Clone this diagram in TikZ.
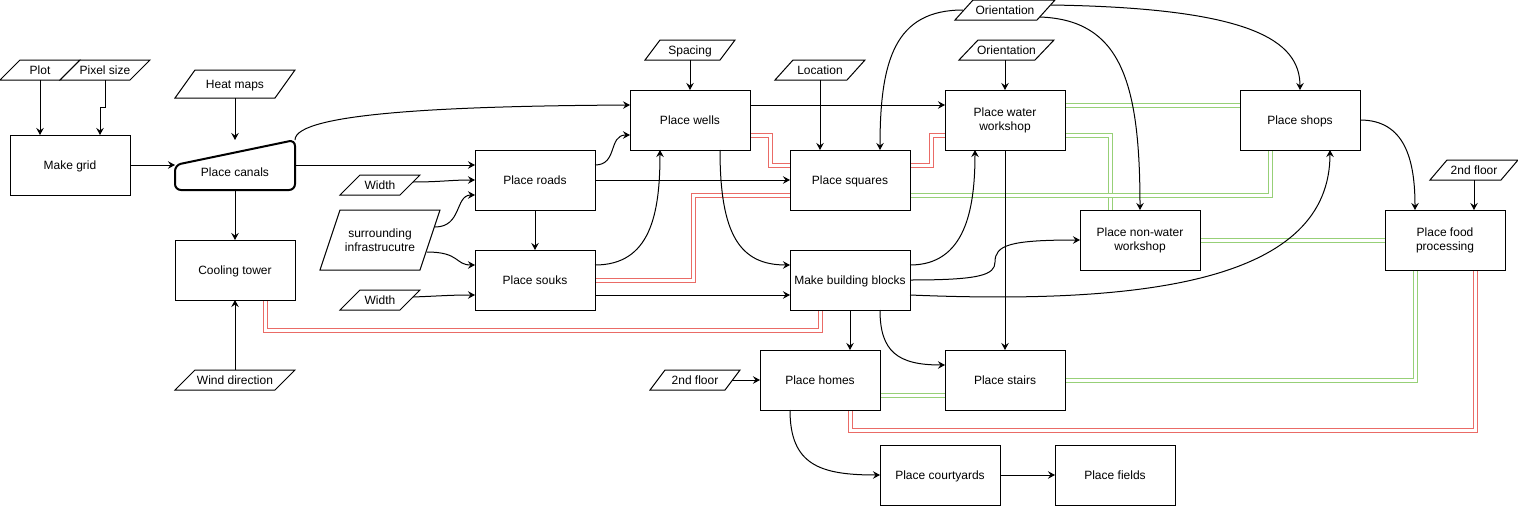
\documentclass[tikz,border=0pt]{standalone}
\usepackage{fontspec}
\setmainfont{Liberation Sans}
\usetikzlibrary{arrows.meta,calc}
\definecolor{lred}{HTML}{EA6B66}
\definecolor{lgreen}{HTML}{97D077}
\pgfdeclarelayer{bg}
\pgfsetlayers{bg,main}
\newcommand\pgdraw[2]{\draw ($(#1.north west)+(#2,0)$) -- (#1.north east) -- ($(#1.south east)+(-#2,0)$) -- (#1.south west) -- cycle;}
\begin{document}
\begin{tikzpicture}[x=1pt,y=-1pt,line width=1pt,
 every node/.style={font=\fontsize{12}{14}\selectfont, inner sep=0pt, outer sep=0pt, align=center},
 oneline/.style={text height=10.6pt, text depth=2.5pt},
 boxm/.style={draw, line width=1pt, rectangle, minimum width=120, minimum height=60},
 box/.style={boxm, oneline},
 pgm/.style={rectangle, minimum height=20},
 pg/.style={pgm, oneline},
 arr/.style={line width=1pt, -{Stealth[length=7pt,width=7.5pt,inset=2.5pt]}},
 rlink/.style={draw=lred, double=white, double distance=3pt, line width=1pt},
 glink/.style={draw=lgreen, double=white, double distance=3pt, line width=1pt}]
\useasboundingbox (0,0) rectangle (1518,506);
% nodes
\node[pg, minimum width=80] (plot) at (40,70) {Plot};
\node[pg, minimum width=90] (pix) at (105,70) {Pixel size};
\node[box] (grid) at (70,165) {Make grid};
\node[pg, minimum width=120, minimum height=28] (heat) at (235,84) {Heat maps};
\node[minimum width=120, minimum height=50, label={[oneline, yshift=-7.5pt]center:Place canals}] (canals) at (235,165) {};
\node[box] (cool) at (235,270) {Cooling tower};
\node[pg, minimum width=120] (wind) at (235,380) {Wind direction};
\node[pg, minimum width=80] (w1) at (380,185) {Width};
\node[pgm, minimum width=120, minimum height=60] (surr) at (380,240) {surrounding\\infrastrucutre};
\node[pg, minimum width=80] (w2) at (380,300) {Width};
\node[box] (roads) at (535,180) {Place roads};
\node[box] (souks) at (535,280) {Place souks};
\node[box] (wells) at (690,120) {Place wells};
\node[pg, minimum width=90] (spacing) at (690,50) {Spacing};
\node[pg, minimum width=90] (loc) at (820,70) {Location};
\node[box] (squares) at (850,180) {Place squares};
\node[box] (mbb) at (850,280) {Make building blocks};
\node[boxm] (ww) at (1005,120) {Place water\\workshop};
\node[pg, minimum width=100] (or1) at (1005,10) {Orientation};
\node[pg, minimum width=95] (or2) at (1006.5,50) {Orientation};
\node[boxm] (nww) at (1140,240) {Place non-water\\workshop};
\node[box] (shops) at (1300,120) {Place shops};
\node[boxm] (food) at (1445,240) {Place food\\processing};
\node[pg, minimum width=88] (fl2r) at (1474,170) {2nd floor};
\node[box] (homes) at (820,380) {Place homes};
\node[box] (stairs) at (1005,380) {Place stairs};
\node[pg, minimum width=90] (fl2l) at (695,380) {2nd floor};
\node[box] (court) at (940,475) {Place courtyards};
\node[box] (fields) at (1115,475) {Place fields};
% shapes
\pgdraw{plot}{20}
\pgdraw{pix}{20}
\pgdraw{heat}{20}
\pgdraw{wind}{20}
\pgdraw{w1}{20}
\pgdraw{surr}{20}
\pgdraw{w2}{20}
\pgdraw{spacing}{15}
\pgdraw{loc}{18}
\pgdraw{or1}{18}
\pgdraw{or2}{19}
\pgdraw{fl2r}{17}
\pgdraw{fl2l}{15}
\draw[line width=2pt, rounded corners=6pt] (canals.west) -- (canals.north east) -- (canals.south east) -- (canals.south west) -- cycle;
% double links
\begin{pgfonlayer}{bg}
\draw[rlink] ($(cool.south)+(30,0)$) -- ++(0,30) -| ($(mbb.south)+(-30,0)$);
\draw[rlink] (souks.east) -- ++(98,0) |- ($(squares.west)+(0,15)$);
\draw[rlink] ($(wells.east)+(0,15)$) -- ++(20,0) |- ($(squares.west)+(0,-15)$);
\draw[rlink] ($(squares.east)+(0,-15)$) -- ++(21,0) |- ($(ww.west)+(0,15)$);
\draw[rlink] ($(homes.south)+(30,0)$) -- ++(0,20) -| ($(food.south)+(30,0)$);
\draw[glink] ($(ww.east)+(0,-15)$) -- ($(shops.west)+(0,-15)$);
\draw[glink] ($(ww.east)+(0,15)$) -| ($(nww.north)+(-30,0)$);
\draw[glink] ($(squares.east)+(0,15)$) -| ($(shops.south)+(-30,0)$);
\draw[glink] (nww.east) -- (food.west);
\draw[glink] (stairs.east) -| ($(food.south)+(-30,0)$);
\draw[glink] ($(homes.east)+(0,15)$) -- ($(stairs.west)+(0,15)$);
\end{pgfonlayer}
% arrows
\draw[arr] (plot.south) -- (plot.south |- grid.north);
\draw[arr] (pix.south) -- ++(0,27) -| ($(grid.north)+(30,0)$);
\draw[arr] (heat.south) -- (canals.north);
\draw[arr] (grid.east) -- (canals.west);
\draw[arr] (canals.south) -- (cool.north);
\draw[arr] (wind.north) -- (cool.south);
\draw[arr] (canals.north east) .. controls (295,112) and (460,106) .. ($(wells.west)+(0,-15)$);
\draw[arr] (canals.east) -- (canals.east -| roads.west);
\draw[arr] ($(w1.east)+(-7,-3)$) .. controls (440,182) and (450,180) .. (roads.west);
\draw[arr] ($(surr.east)+(-5,-13)$) .. controls (462,227) and (455,195) .. ($(roads.west)+(0,15)$);
\draw[arr] ($(surr.east)+(-13,12)$) .. controls (460,252) and (455,265) .. ($(souks.west)+(0,-15)$);
\draw[arr] ($(w2.east)+(-7,-3)$) .. controls (440,296) and (450,295) .. ($(souks.west)+(0,15)$);
\draw[arr] (roads.south) -- (souks.north);
\draw[arr] ($(roads.east)+(0,-15)$) .. controls (618,165) and (608,135) .. ($(wells.west)+(0,15)$);
\draw[arr] (roads.east) -- (roads.east -| squares.west);
\draw[arr] ($(souks.east)+(0,-15)$) .. controls (650,265) and (660,215) .. ($(wells.south)+(-30,0)$);
\draw[arr] ($(souks.east)+(0,15)$) -- ($(mbb.west)+(0,15)$);
\draw[arr] (spacing.south) -- (wells.north);
\draw[arr] ($(wells.east)+(0,-15)$) -- ($(ww.west)+(0,-15)$);
\draw[arr] ($(wells.south)+(30,0)$) .. controls (720,235) and (740,265) .. ($(mbb.west)+(0,-15)$);
\draw[arr] (loc.south) -- (loc.south |- squares.north);
\draw[arr] ($(or1.west)+(8,0)$) .. controls (895,10) and (880,60) .. ($(squares.north)+(30,0)$);
\draw[arr] ($(or1.east)+(-15,7)$) .. controls (1120,20) and (1140,80) .. (nww.north);
\draw[arr] ($(or1.east)+(-4,-5)$) .. controls (1250,8) and (1300,40) .. (shops.north);
\draw[arr] (or2.south -| ww.north) -- (ww.north);
\draw[arr] ($(mbb.east)+(0,-15)$) .. controls (965,265) and (975,210) .. ($(ww.south)+(-30,0)$);
\draw[arr] (mbb.east) .. controls (980,280) and (995,275) .. (995,262) .. controls (995,245) and (1010,240) .. (nww.west);
\draw[arr] ($(mbb.east)+(0,15)$) .. controls (1150,305) and (1330,280) .. ($(shops.south)+(30,0)$);
\draw[arr] (mbb.south) -- ($(homes.north)+(30,0)$);
\draw[arr] ($(mbb.south)+(30,0)$) .. controls (880,352) and (898,365) .. ($(stairs.west)+(0,-15)$);
\draw[arr] (ww.south) -- (stairs.north);
\draw[arr] (shops.east) .. controls (1405,120) and (1415,160) .. ($(food.north)+(-30,0)$);
\draw[arr] (fl2r.south) -- (fl2r.south |- food.north);
\draw[arr] ($(fl2l.east)+(-8,0)$) -- (homes.west);
\draw[arr] ($(homes.south)+(-30,0)$) .. controls (790,465) and (820,475) .. (court.west);
\draw[arr] (court.east) -- (fields.west);
\end{tikzpicture}
\end{document}
